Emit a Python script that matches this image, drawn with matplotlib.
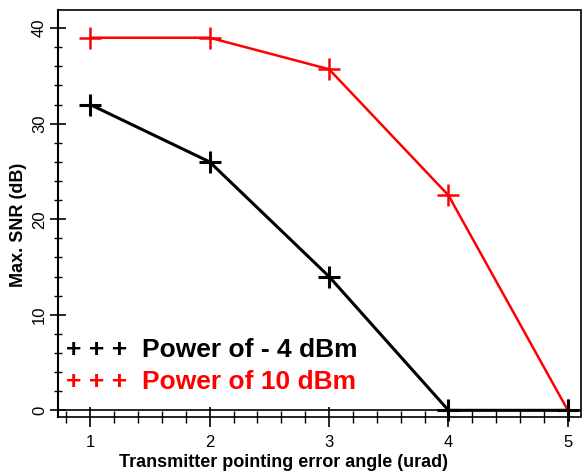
import matplotlib.pyplot as plt
from matplotlib.ticker import MultipleLocator

# --- data ----------------------------------------------------------------
angle = [1, 2, 3, 4, 5]
snr_m4dbm = [32, 26, 14, 0, 0]
snr_10dbm = [39, 39, 35.7, 22.5, 0]

plt.rcParams["font.family"] = ["Liberation Sans", "DejaVu Sans"]

fig = plt.figure(figsize=(5.82, 4.72), dpi=100)
ax = fig.add_axes([0.0997, 0.1165, 0.8986, 0.8623])

ax.plot(angle, snr_m4dbm, color="black", linewidth=2.2, marker="+",
        markersize=16, markeredgewidth=2.2, clip_on=False, zorder=4)
ax.plot(angle, snr_10dbm, color="red", linewidth=1.8, marker="+",
        markersize=16, markeredgewidth=1.8, clip_on=False, zorder=3)

ax.set_xlim(0.73, 5.11)
ax.set_ylim(-0.7, 41.9)

# zero line above the dotted bottom spine
ax.axhline(0, color="black", linewidth=1.2, zorder=2)

ax.xaxis.set_major_locator(MultipleLocator(1))
ax.xaxis.set_minor_locator(MultipleLocator(0.2))
ax.yaxis.set_major_locator(MultipleLocator(10))
ax.yaxis.set_minor_locator(MultipleLocator(2))

ax.tick_params(axis="x", which="major", direction="inout", length=14, width=1.2,
               labelsize=12, pad=6)
ax.tick_params(axis="x", which="minor", direction="inout", length=8, width=1)
ax.tick_params(axis="y", which="major", direction="inout", length=12, width=1.2,
               labelsize=12, pad=2)
ax.tick_params(axis="y", which="minor", direction="inout", length=6, width=1)
for lbl in ax.get_yticklabels():
    lbl.set_rotation(90)
    lbl.set_va("center")

ax.spines["left"].set_linewidth(1.5)
for side in ["top", "right", "bottom"]:
    ax.spines[side].set_linestyle((0, (1, 1)))
    ax.spines[side].set_linewidth(1.2)
    ax.spines[side].set_color("black")

ax.set_xlabel("Transmitter pointing error angle (urad)", fontsize=13,
              fontweight="bold")
ax.set_ylabel("Max. SNR (dB)", fontsize=13, fontweight="bold")
ax.xaxis.set_label_coords(0.432, -0.091)
ax.yaxis.set_label_coords(-0.059, 0.472)

# legend drawn as text, like the original
ax.text(0.015, 0.165, "+ + +  Power of - 4 dBm", transform=ax.transAxes,
        fontsize=19, fontweight="bold", color="black", va="center", ha="left")
ax.text(0.015, 0.086, "+ + +  Power of 10 dBm", transform=ax.transAxes,
        fontsize=19, fontweight="bold", color="red", va="center", ha="left")

fig.savefig("out.png", dpi=100)
